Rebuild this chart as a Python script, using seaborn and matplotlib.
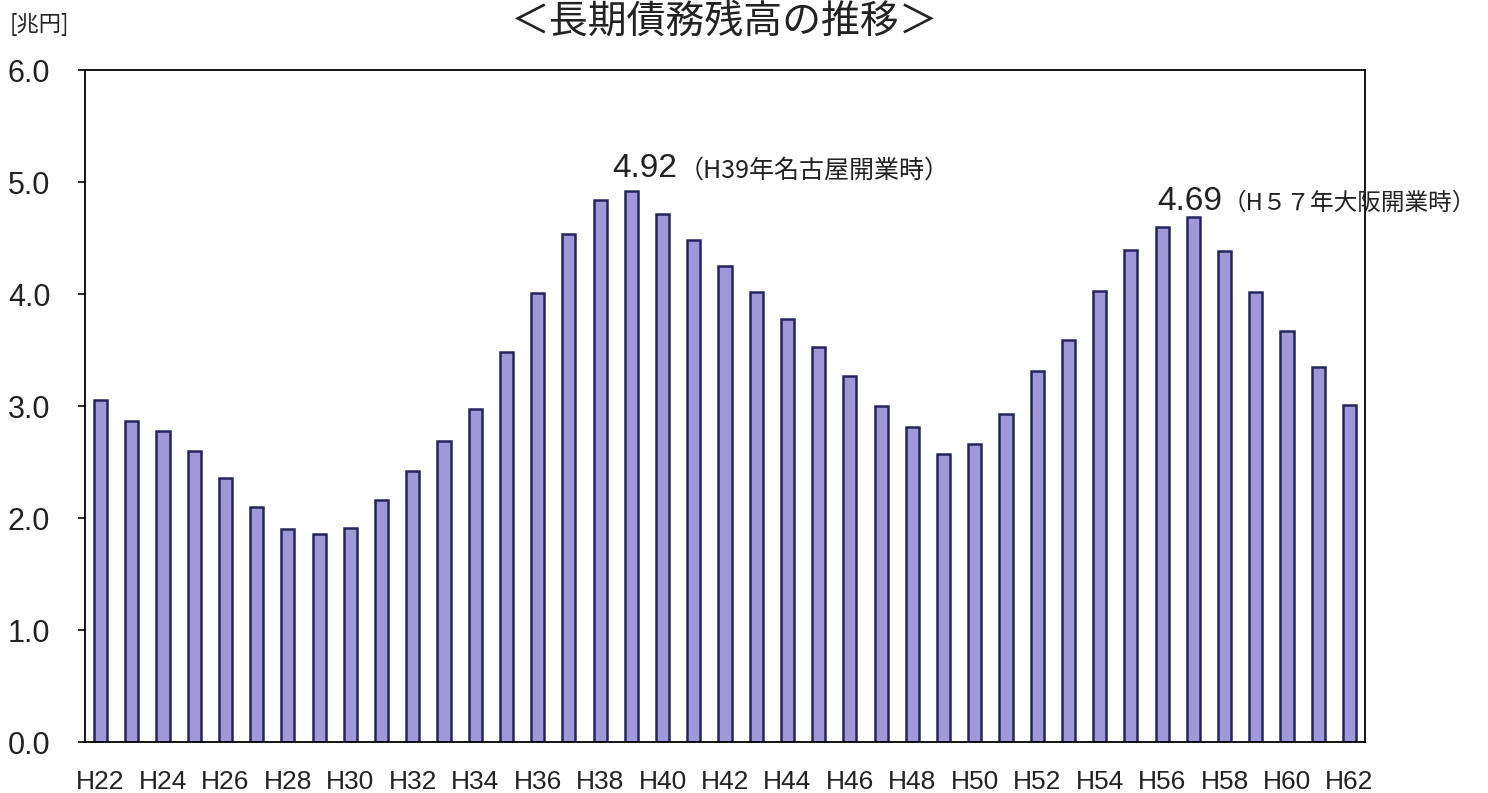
import matplotlib
matplotlib.use("Agg")
import matplotlib.pyplot as plt
import seaborn as sns
import pandas as pd

years = [f"H{y}" for y in range(22, 63)]
debt = [3.05, 2.87, 2.78, 2.60, 2.36, 2.10, 1.90, 1.86, 1.91, 2.16,
        2.42, 2.69, 2.97, 3.48, 4.01, 4.54, 4.84, 4.92, 4.71, 4.48,
        4.25, 4.02, 3.78, 3.53, 3.27, 3.00, 2.81, 2.57, 2.66, 2.93,
        3.31, 3.59, 4.03, 4.39, 4.60, 4.69, 4.38, 4.02, 3.67, 3.35,
        3.01]
yticks = [0, 1, 2, 3, 4, 5, 6]
title = "＜長期債務残高の推移＞"
unit = "[兆円]"
peak1_val, peak1_note = "4.92", "（H39年名古屋開業時）"
peak2_val, peak2_note = "4.69", "（H５７年大阪開業時）"

sns.set_theme(style="white")
plt.rcParams['font.family'] = ['Noto Sans CJK JP', 'DejaVu Sans']

df = pd.DataFrame({"year": years, "debt": debt})

fig = plt.figure(figsize=(14.88, 7.93), dpi=100)
ax = fig.add_axes([85/1488, 1-742/793, (1365-85)/1488, (742-70)/793])

sns.barplot(data=df, x="year", y="debt", ax=ax, color="#a098d8", saturation=1,
            width=0.42, edgecolor="#26245e", linewidth=1.8)

ax.set_xlim(-0.5, len(years) - 0.5)
ax.set_ylim(0, 6)
ax.set_yticks(yticks)
ax.set_yticklabels([f"{v:.1f}" for v in yticks], fontsize=22,
                   family=['Liberation Sans', 'DejaVu Sans'], color="#222222")
ax.set_xticks(range(0, len(years), 2))
ax.set_xticklabels(years[::2], fontsize=19,
                   family=['Liberation Sans Narrow', 'Liberation Sans', 'DejaVu Sans'],
                   color="#222222")
ax.tick_params(axis='y', length=5, width=1.2, pad=20, left=True, color="black")
ax.tick_params(axis='x', length=0, pad=20)
ax.set_xlabel("")
ax.set_ylabel("")
for s in ax.spines.values():
    s.set_visible(True)
    s.set_color("black")
    s.set_linewidth(1.3)

# annotations
ax.text(16.4, 5.12, peak1_val, fontsize=24, va="center", ha="left", color="#222222",
        family=['Liberation Sans', 'DejaVu Sans'])
ax.text(18.5, 5.1, peak1_note, fontsize=18, va="center", ha="left", color="#222222")
ax.text(33.85, 4.83, peak2_val, fontsize=24, va="center", ha="left", color="#222222",
        family=['Liberation Sans', 'DejaVu Sans'], clip_on=False)
ax.text(35.95, 4.81, peak2_note, fontsize=17, va="center", ha="left", color="#222222",
        clip_on=False)

fig.text(725/1488, 1 - 22/793, title, fontsize=28, ha="center", va="center", color="#222222")
fig.text(10/1488, 1 - 24/793, unit, fontsize=16, ha="left", va="center", color="#222222")

fig.savefig("out.png", dpi=100, facecolor="white")
